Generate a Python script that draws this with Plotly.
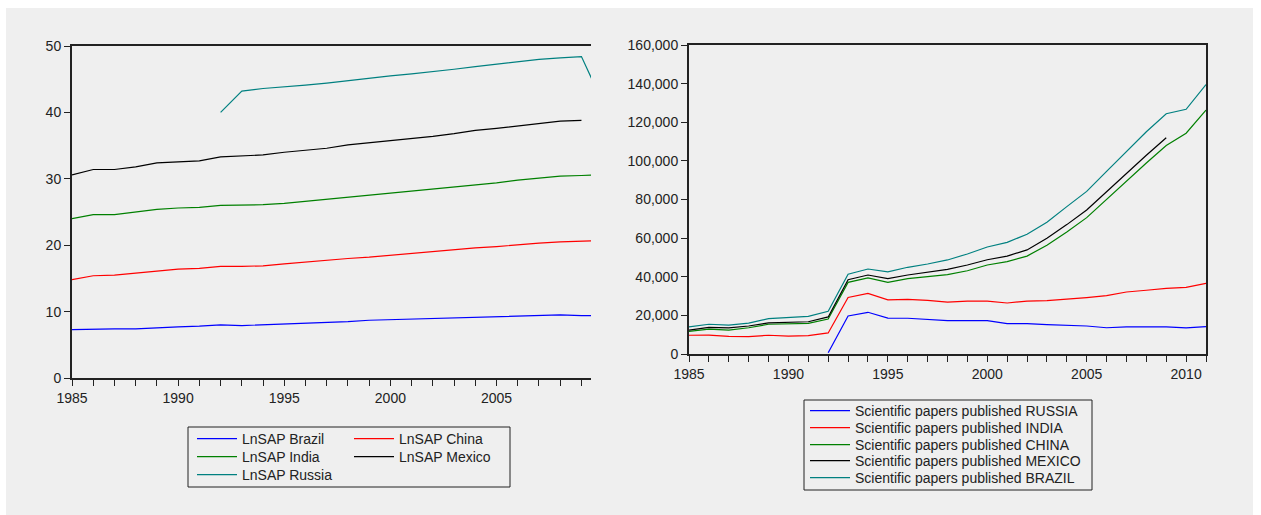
import plotly.graph_objects as go

# ---- data ---------------------------------------------------------------
years_lnsap = list(range(1985, 2011))
lnsap_brazil = [7.3, 7.4, 7.4, 7.4, 7.6, 7.7, 7.8, 8.0, 7.9, 8.0, 8.1, 8.2, 8.4,
                8.5, 8.7, 8.8, 8.9, 9.0, 9.0, 9.2, 9.2, 9.3, 9.4, 9.5, 9.4, 9.4]
lnsap_china = [14.8, 15.4, 15.5, 15.8, 16.2, 16.4, 16.5, 16.8, 16.8, 16.9, 17.2, 17.5, 17.8,
               18.0, 18.2, 18.5, 18.8, 19.0, 19.3, 19.6, 19.8, 20.1, 20.3, 20.5, 20.6, 20.7]
lnsap_india = [24.0, 24.6, 24.6, 25.0, 25.4, 25.6, 25.7, 26.0, 26.0, 26.1, 26.3, 26.6, 26.9,
               27.2, 27.5, 27.8, 28.1, 28.4, 28.7, 29.1, 29.4, 29.8, 30.1, 30.4, 30.5, 30.6]
lnsap_mexico = [30.6, 31.4, 31.4, 31.8, 32.4, 32.6, 32.7, 33.3, 33.4, 33.6, 34.0, 34.3, 34.6,
                35.1, 35.4, 35.7, 36.1, 36.4, 36.8, 37.3, 37.6, 38.0, 38.4, 38.7, 38.8, None]
lnsap_russia = [None, None, None, None, None, None, None, 40.0, 43.2, 43.6, 43.8, 44.1, 44.4,
                44.8, 45.2, 45.5, 45.8, 46.1, 46.5, 46.9, 47.3, 47.6, 48.0, 48.2, 48.4, 41.5]

years_papers = list(range(1985, 2012))
papers_russia = [None, None, None, None, None, None, None, 600, 19700, 21600, 18600, 18500,
                 18000, 17300, 17300, 17300, 15700, 15700, 15200, 14800, 14500, 13600, 14000,
                 14000, 14000, 13500, 14200]
papers_india = [9700, 9800, 9100, 9000, 9700, 9300, 9500, 10900, 29300, 31400, 28000, 28300,
                27800, 26900, 27400, 27400, 26400, 27400, 27600, 28300, 29200, 30200, 32100,
                33000, 34000, 34500, 36600]
papers_china = [11700, 12900, 12400, 13600, 15400, 15700, 15900, 18100, 37100, 39400, 37100,
                39000, 40000, 41100, 43100, 46100, 47800, 50700, 56300, 63200, 70600, 80100,
                89600, 98900, 108000, 114300, 126300]
papers_mexico = [12400, 13800, 13500, 14500, 16100, 16400, 16700, 19200, 38500, 40900, 39000,
                 40900, 42500, 43800, 46100, 48800, 50700, 53900, 59900, 67000, 74600, 84100,
                 93500, 102900, 112000, None, None]
papers_brazil = [14000, 15400, 15000, 16000, 18300, 19000, 19500, 22100, 41300, 44000, 42500,
                 44900, 46600, 48700, 51800, 55400, 57800, 62000, 68200, 76300, 84200, 94600,
                 105000, 115100, 124400, 126700, 139500]

# ---- page geometry (pixels) ---------------------------------------------
W, H = 1261, 515
FONT = "Liberation Sans, Arial, sans-serif"
INK = "#222222"


def px(x):
    return x / W


def py(y):
    return 1 - y / H


fig = go.Figure()

# Left panel: LnSAP series, legend laid out in two columns
left_series = [
    ("LnSAP Brazil", lnsap_brazil, "#0000FF", 192, 439),
    ("LnSAP China", lnsap_china, "#FF0000", 349, 439),
    ("LnSAP India", lnsap_india, "#008000", 192, 457),
    ("LnSAP Mexico", lnsap_mexico, "#000000", 349, 457),
    ("LnSAP Russia", lnsap_russia, "#008080", 192, 475),
]
# Right panel: paper counts, single-column legend
right_series = [
    ("Scientific papers published RUSSIA", papers_russia, "#0000FF", 805, 411),
    ("Scientific papers published INDIA", papers_india, "#FF0000", 805, 428),
    ("Scientific papers published CHINA", papers_china, "#008000", 805, 445),
    ("Scientific papers published MEXICO", papers_mexico, "#000000", 805, 461),
    ("Scientific papers published BRAZIL", papers_brazil, "#008080", 805, 478),
]

legends = {}
n = 0
for (name, vals, color, lx, ly), (xa, ya, xs) in (
    [(s, ("x", "y", years_lnsap)) for s in left_series]
    + [(s, ("x2", "y2", years_papers)) for s in right_series]
):
    n += 1
    key = "legend" if n == 1 else f"legend{n}"
    fig.add_trace(go.Scatter(
        x=xs, y=vals, name=name, mode="lines", xaxis=xa, yaxis=ya,
        line=dict(color=color, width=1.2), connectgaps=False, legend=key,
    ))
    legends[key] = dict(
        xref="container", yref="container",
        x=px(lx), y=py(ly), xanchor="left", yanchor="middle",
        bgcolor="rgba(0,0,0,0)", borderwidth=0, itemwidth=40,
        font=dict(family=FONT, size=14, color=INK),
        itemclick=False, itemdoubleclick=False,
    )

axis_common = dict(
    automargin=False,
    showgrid=False, zeroline=False, showline=True, linecolor=INK, linewidth=2,
    ticks="outside", ticklen=6, tickwidth=1, tickcolor=INK,
    tickfont=dict(family=FONT, size=14, color=INK),
)

fig.update_layout(
    width=W, height=H,
    margin=dict(l=0, r=0, t=0, b=0, autoexpand=False),
    paper_bgcolor="white", plot_bgcolor="white",
    showlegend=True,
    xaxis=dict(domain=[px(72), px(591)], anchor="y", range=[1985, 2009.45],
               tickmode="linear", tick0=1985, dtick=5, mirror=True,
               minor=dict(dtick=1, ticks="outside", ticklen=6, tickcolor=INK),
               **axis_common),
    yaxis=dict(domain=[py(378), py(46)], anchor="x", range=[0, 50],
               tickmode="linear", tick0=0, dtick=10, mirror=False, **axis_common),
    xaxis2=dict(domain=[px(689), px(1206)], anchor="y2", range=[1985, 2011],
                tickmode="linear", tick0=1985, dtick=5, mirror=True,
                minor=dict(dtick=1, ticks="outside", ticklen=6, tickcolor=INK),
                **axis_common),
    yaxis2=dict(domain=[py(354), py(45)], anchor="x2", range=[0, 160000],
                tickmode="linear", tick0=0, dtick=20000, tickformat=",d",
                mirror=True, **axis_common),
    shapes=[
        # grey backdrop behind both panels
        dict(type="rect", xref="paper", yref="paper", layer="below",
             x0=px(6), x1=px(1253), y0=0, y1=py(8),
             fillcolor="#EFEFEF", line=dict(width=0)),
        # legend frames
        dict(type="rect", xref="paper", yref="paper", layer="above",
             x0=px(188), x1=px(510), y0=py(487), y1=py(427),
             fillcolor="rgba(0,0,0,0)", line=dict(color=INK, width=1)),
        dict(type="rect", xref="paper", yref="paper", layer="above",
             x0=px(804), x1=px(1092), y0=py(490), y1=py(400),
             fillcolor="rgba(0,0,0,0)", line=dict(color=INK, width=1)),
    ],
    **legends,
)

fig.write_html("out.html")
